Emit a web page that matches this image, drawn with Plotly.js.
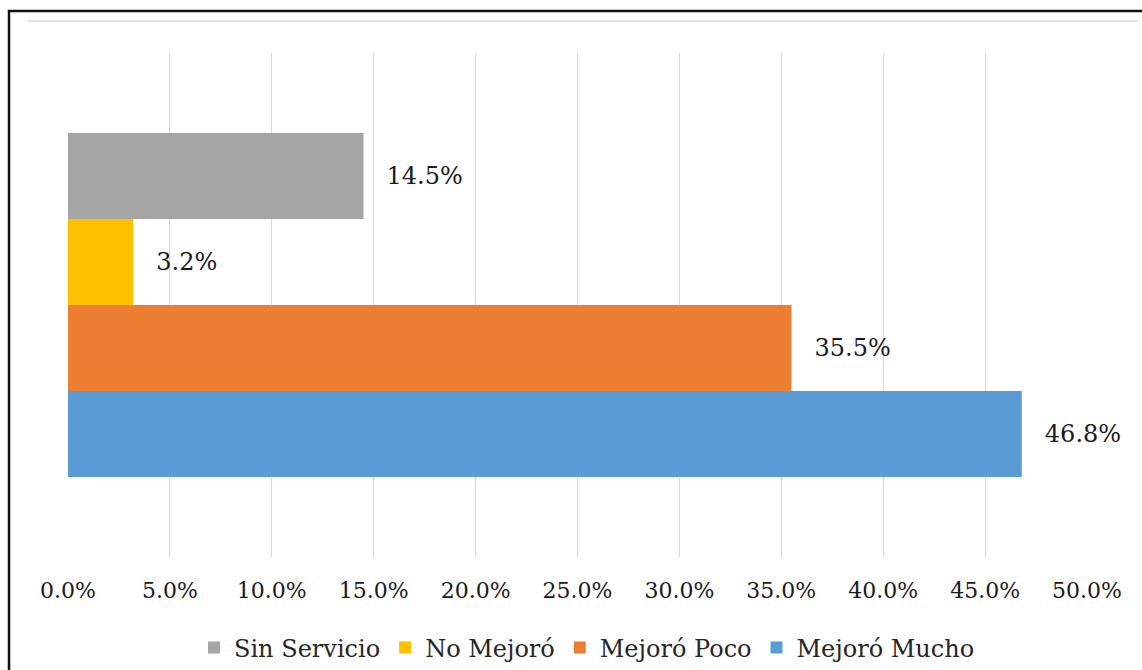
<!DOCTYPE html>
<html>
<head>
<meta charset="utf-8">
<script src="https://cdn.plot.ly/plotly-3.0.1.min.js"></script>
<style>
html,body{margin:0;padding:0;background:#fff;}
#chart{width:1142px;height:670px;}
</style>
</head>
<body>
<div id="chart"></div>
<script>
const category = ["Total"];
const seriesNames = ["Sin Servicio", "No Mejoró", "Mejoró Poco", "Mejoró Mucho"];
const seriesValues = [14.5, 3.2, 35.5, 46.8];
const seriesColors = ["#A5A5A5", "#FFC000", "#ED7D31", "#5B9BD5"];
const tickValues = [0, 5, 10, 15, 20, 25, 30, 35, 40, 45, 50];
const tickLabels = tickValues.map(v => v.toFixed(1) + "%");

const font = "DejaVu Serif";
const pad = "\u00a0\u00a0\u2009";

const traces = seriesNames.map((name, i) => ({
  type: "bar",
  orientation: "h",
  name: name,
  y: category,
  x: [seriesValues[i]],
  marker: {color: seriesColors[i]},
  text: [pad + seriesValues[i].toFixed(1) + "%"],
  textposition: "outside",
  cliponaxis: false,
  constraintext: "none",
  textfont: {family: font, size: 24, color: "#1a1a1a"},
  hoverinfo: "x+name"
}));

const W = 1142, H = 670, L = 68, R = 55, T = 53, B = 113;
const pw = W - L - R, ph = H - T - B;
const px = x => (x - L) / pw;
const py = y => 1 - (y - T) / ph;

const layout = {
  width: W, height: H,
  margin: {l: L, r: R, t: T, b: B, pad: 0, autoexpand: false},
  paper_bgcolor: "#fff",
  plot_bgcolor: "#fff",
  font: {family: font},
  barmode: "group",
  bargap: 0.317,
  bargroupgap: 0,
  showlegend: true,
  legend: {
    orientation: "h",
    x: px(587), xanchor: "center",
    y: py(648), yanchor: "middle",
    font: {family: font, size: 24, color: "#262626"},
    itemwidth: 30,
    traceorder: "normal"
  },
  xaxis: {
    range: [0, 50],
    tickvals: tickValues,
    ticktext: tickLabels,
    showgrid: true,
    gridcolor: "#d9d9d9",
    gridwidth: 1,
    zeroline: false,
    showline: false,
    ticks: "",
    ticklabelstandoff: 18,
    tickfont: {family: font, size: 22, color: "#1a1a1a"},
    fixedrange: true
  },
  yaxis: {
    autorange: "reversed",
    showticklabels: false,
    showgrid: false,
    zeroline: false,
    showline: false,
    ticks: "",
    fixedrange: true
  },
  shapes: [
    {type: "line", xref: "paper", yref: "paper",
     x0: px(28), x1: px(1138), y0: py(21), y1: py(21),
     line: {color: "#d9d9d9", width: 1.5}},
    {type: "rect", xref: "paper", yref: "paper",
     x0: px(9), x1: px(1160), y0: py(11), y1: py(700),
     line: {color: "#111", width: 2.5}}
  ]
};

Plotly.newPlot("chart", traces, layout, {displayModeBar: false, staticPlot: true});
</script>
</body>
</html>
